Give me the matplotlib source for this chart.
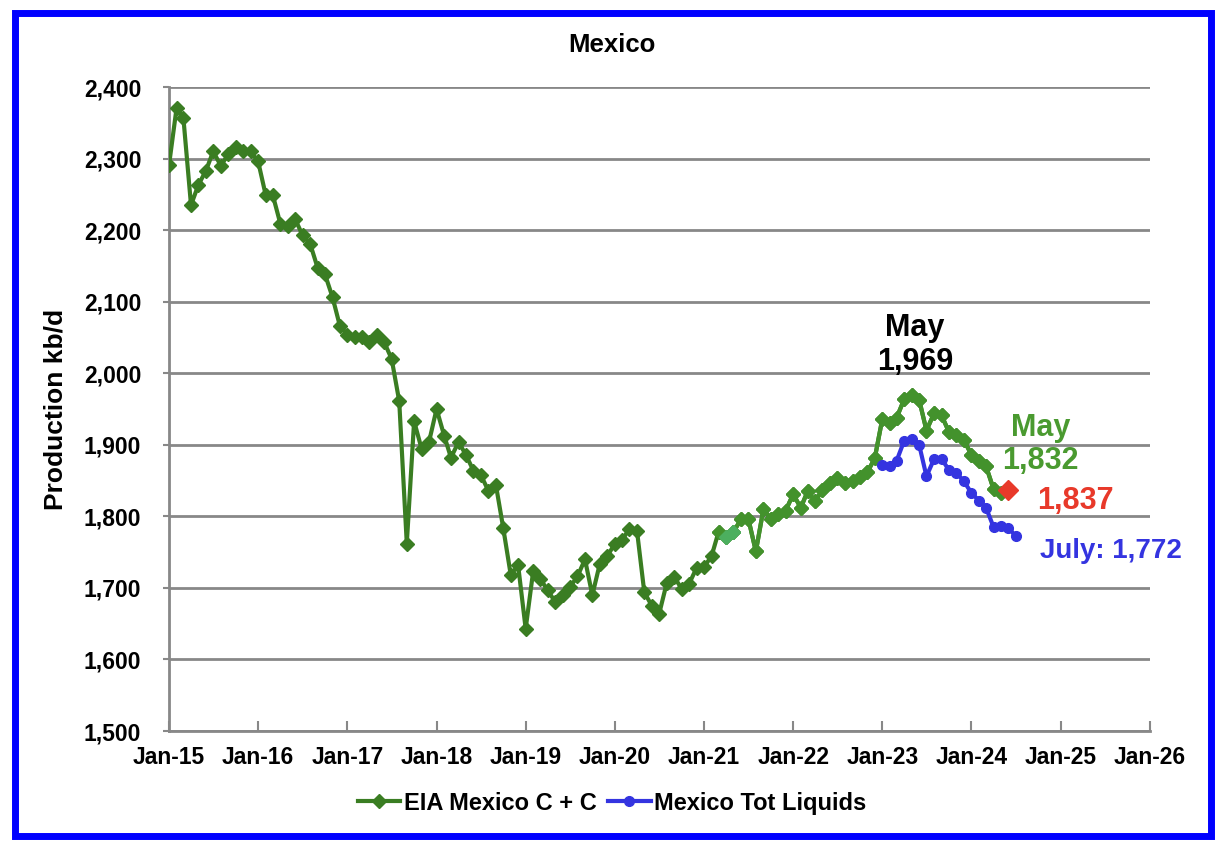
import matplotlib
matplotlib.use("Agg")
import matplotlib.pyplot as plt
import matplotlib.dates as mdates
from matplotlib.ticker import FuncFormatter
from matplotlib.patches import Rectangle
import pandas as pd

plt.rcParams['font.family'] = ['Liberation Sans', 'DejaVu Sans']
plt.rcParams['font.weight'] = 'bold'

# EIA Mexico C + C, monthly from Jan-15 (kb/d)
cc_start = '2015-01-01'
cc_values = [
    2291, 2371, 2356, 2235, 2263, 2283, 2310, 2290, 2306, 2316, 2310, 2310,
    2296, 2249, 2249, 2209, 2206, 2215, 2193, 2181, 2147, 2138, 2106, 2066,
    2054, 2051, 2051, 2043, 2054, 2043, 2020, 1961, 1762, 1933, 1894, 1904,
    1950, 1913, 1882, 1904, 1886, 1864, 1858, 1836, 1844, 1784, 1718, 1732,
    1643, 1724, 1713, 1697, 1681, 1690, 1701, 1716, 1740, 1690, 1734, 1744,
    1762, 1767, 1783, 1780, 1694, 1675, 1664, 1707, 1715, 1699, 1706, 1728,
    1729, 1745, 1778, 1771, 1778, 1796, 1797, 1751, 1810, 1797, 1804, 1808,
    1831, 1812, 1835, 1821, 1837, 1846, 1853, 1846, 1849, 1855, 1862, 1881,
    1936, 1931, 1938, 1964, 1969, 1963, 1920, 1944, 1941, 1918, 1914, 1907,
    1886, 1877, 1870, 1838, 1832,
]

# Mexico total liquids, monthly from Jan-23
liq_start = '2023-01-01'
liq_values = [
    1872, 1870, 1878, 1906, 1908, 1900, 1856, 1880, 1880, 1865, 1861, 1849,
    1833, 1822, 1812, 1785, 1787, 1784, 1772,
]

# latest estimate (red marker)
est_date = '2024-06-01'
est_value = 1837

# two estimated months inside the C + C series (lighter green)
light_dates = ['2021-04-01', '2021-05-01']
light_values = [1771, 1778]

green = '#3a7d22'
green_late = '#43922c'
blue = '#3434e0'
red = '#e8392a'

cc_dates = pd.date_range(cc_start, periods=len(cc_values), freq='MS')
liq_dates = pd.date_range(liq_start, periods=len(liq_values), freq='MS')

fig = plt.figure(figsize=(12.24, 8.48), dpi=100)
ax = fig.add_axes([0.1381, 0.1379, 0.8013, 0.7595])

ax.plot(cc_dates, cc_values, color=green, marker='D', markersize=7, linewidth=3,
        label='EIA Mexico C + C', zorder=3)
# later part of the series is a lighter green
split = 74
ax.plot(cc_dates[split:], cc_values[split:], color=green_late, marker='D', markersize=7,
        linewidth=3, zorder=3)
ax.plot(pd.to_datetime(light_dates), light_values, color='#4caf5f', marker='D',
        markersize=7, linewidth=3, zorder=4)
ax.plot(liq_dates, liq_values, color=blue, marker='o', markersize=7, linewidth=3,
        label='Mexico Tot Liquids', zorder=3)
ax.plot(pd.to_datetime([est_date]), [est_value], color=red, marker='D', markersize=10,
        linestyle='none', zorder=5)

ax.set_ylim(1500, 2400)
ax.set_yticks(range(1500, 2401, 100))
ax.yaxis.set_major_formatter(FuncFormatter(lambda v, p: f'{int(v):,}'))
ax.set_xlim(pd.Timestamp('2015-01-01'), pd.Timestamp('2026-01-01'))
ax.xaxis.set_major_locator(mdates.YearLocator())
ax.xaxis.set_major_formatter(mdates.DateFormatter('Jan-%y'))

ax.grid(axis='y', color='#888888', linewidth=2)
ax.set_axisbelow(True)
for s in ['top', 'right']:
    ax.spines[s].set_visible(False)
for s in ['left', 'bottom']:
    ax.spines[s].set_color('#888888')
    ax.spines[s].set_linewidth(2)
ax.tick_params(axis='x', direction='in', length=7, width=1.5, color='#888888',
               labelsize=16.5, pad=11)
ax.tick_params(axis='y', direction='out', length=4, width=1.5, color='#888888',
               labelsize=16.5, pad=16)
for lbl in ax.get_xticklabels() + ax.get_yticklabels():
    lbl.set_fontweight('bold')

ax.set_ylabel('Production kb/d', fontsize=19, fontweight='bold', labelpad=12)
fig.text(0.5, 0.947, 'Mexico', ha='center', va='center', fontsize=18.5, fontweight='bold')

ax.text(pd.Timestamp('2023-05-15'), 1995, 'May\n1,969', ha='center', va='bottom',
        fontsize=22, fontweight='bold', color='black', linespacing=1.15)
ax.text(pd.Timestamp('2024-10-10'), 1856, 'May\n1,832', ha='center', va='bottom',
        fontsize=22, fontweight='bold', color='#4a9a30', linespacing=1.15)
ax.text(pd.Timestamp('2024-09-25'), 1822, '1,837', ha='left', va='center',
        fontsize=22, fontweight='bold', color=red)
ax.text(pd.Timestamp('2024-10-10'), 1752, 'July: 1,772', ha='left', va='center',
        fontsize=20, fontweight='bold', color=blue)

fig.legend(loc='center', bbox_to_anchor=(0.5, 0.053), ncol=2, frameon=False,
           prop={'size': 17, 'weight': 'bold'}, handlelength=1.8, columnspacing=0.5,
           handletextpad=0.15)

fig.patches.append(Rectangle((0.012, 0.014), 0.977, 0.971, transform=fig.transFigure,
                             fill=False, edgecolor='#0000ff', linewidth=5))

fig.savefig('out.png', dpi=100)
